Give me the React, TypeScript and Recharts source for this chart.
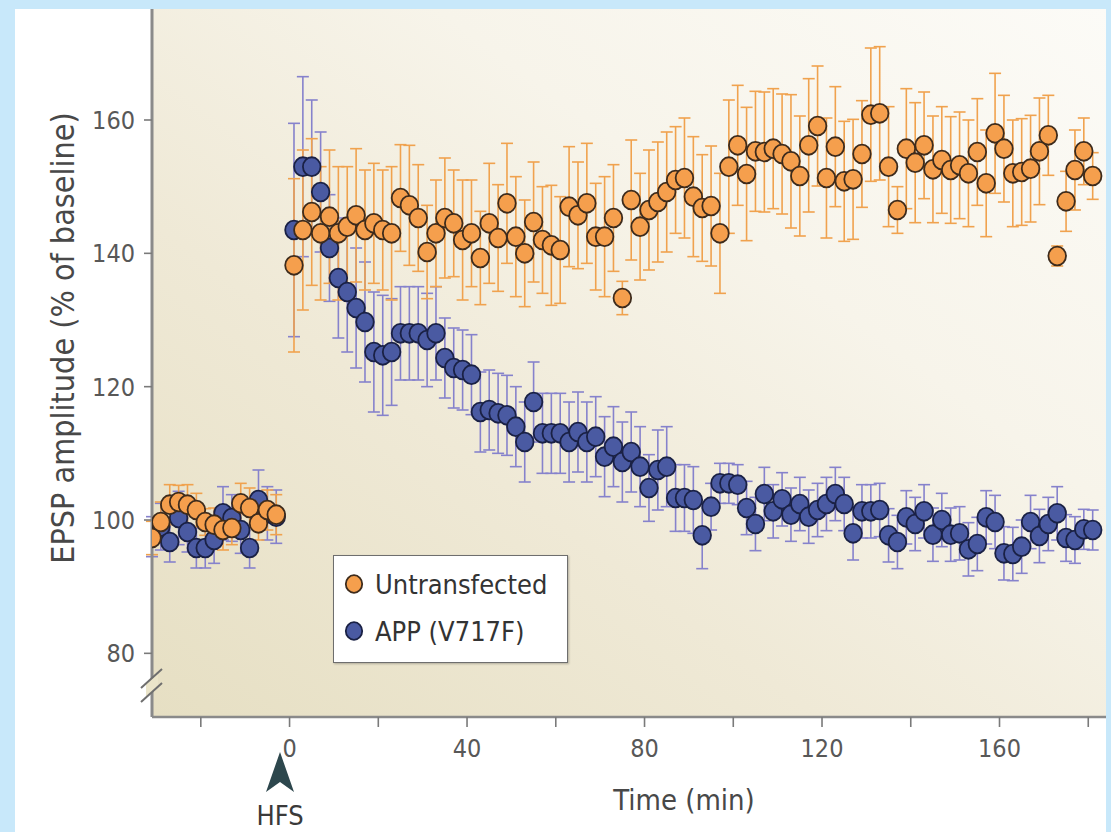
import React from 'react';
import { ScatterChart, Scatter, XAxis, YAxis, ErrorBar } from 'recharts';

const FONT = "'Liberation Sans Narrow', 'DejaVu Sans Condensed', 'Open Sans', sans-serif";

// time of each sweep (min), HFS at 0
const TIME = [
  -31, -29, -27, -25, -23, -21, -19, -17, -15, -13, -11, -9, -7, -5, -3,
  1, 3, 5, 7, 9, 11, 13, 15, 17, 19, 21, 23, 25, 27, 29, 31, 33, 35, 37, 39,
  41, 43, 45, 47, 49, 51, 53, 55, 57, 59, 61, 63, 65, 67, 69, 71, 73, 75, 77, 79,
  81, 83, 85, 87, 89, 91, 93, 95, 97, 99, 101, 103, 105, 107, 109, 111, 113, 115, 117, 119,
  121, 123, 125, 127, 129, 131, 133, 135, 137, 139, 141, 143, 145, 147, 149, 151, 153, 155, 157, 159,
  161, 163, 165, 167, 169, 171, 173, 175, 177, 179, 181,
];

const UNTRANSFECTED = [
  97.3, 99.7, 102.3, 102.7, 102.3, 101.5, 99.7, 99.3, 98.5, 98.8, 102.5, 101.8, 99.5, 101.5, 100.8,
  138.2, 143.5, 146.2, 143, 145.5, 143, 144, 145.7, 143.5, 144.5,
  143.5, 143, 148.3, 147.2, 145.3, 140.2, 143, 145.3, 144.5, 142,
  143, 139.3, 144.5, 142.3, 147.5, 142.5, 140, 144.7, 142, 141.2,
  140.5, 147, 145.7, 147.5, 142.5, 142.5, 145.3, 133.3, 148, 144,
  146.5, 147.7, 149.2, 151, 151.3, 148.5, 146.8, 147.1, 143, 153,
  156.2, 151.9, 155.3, 155.2, 155.7, 154.9, 153.8, 151.6, 156.2, 159.1,
  151.3, 156, 150.8, 151.1, 154.9, 160.8, 161, 153, 146.5, 155.7,
  153.6, 156.2, 152.6, 154, 152.5, 153.2, 152, 155.2, 150.5, 158,
  155.7, 152, 152.2, 152.7, 155.3, 157.7, 139.6, 147.8, 152.5, 155.3,
  151.6,
];

const UNTRANSFECTED_SEM = [
  2.5, 3, 3, 2.5, 3, 2.5, 2, 2.5, 3, 2.5, 3, 3, 2.5, 3, 3,
  13, 12, 11, 10, 10, 10, 9, 10, 9, 9,
  9, 10, 8, 9, 8, 7, 8, 9, 8, 9,
  8, 7, 9, 8, 9, 9, 8, 9, 8, 9,
  8, 9, 8, 9, 8, 9, 8, 2.5, 9, 8,
  9, 9, 9, 8, 9, 9, 8, 9, 9, 10,
  9, 10, 9, 9, 9, 9, 10, 9, 10, 9,
  9, 9, 9, 9, 8, 10, 10, 9, 3.5, 9,
  9, 8, 8, 8, 8, 8, 8, 8, 8, 9,
  8, 8, 8, 8, 8, 6, 1.5, 4.5, 6, 5,
  3.5,
];

const APP = [
  97.5, 99, 96.7, 100.3, 98.2, 95.8, 95.8, 97, 101, 100.3, 98.5, 95.8, 103, 101, 100.5,
  143.5, 153, 153, 149.2, 140.8, 136.3, 134.2, 131.8, 129.7, 125.2,
  124.7, 125.2, 128, 128, 128, 127, 128, 124.3, 122.8, 122.5,
  121.8, 116.2, 116.5, 116, 115.7, 114, 111.7, 117.7, 113, 113,
  113, 111.7, 113.2, 111.7, 112.5, 109.5, 111, 108.7, 110.2, 108,
  104.8, 107.5, 108, 103.3, 103.3, 103, 97.7, 102, 105.5, 105.5,
  105.3, 101.8, 99.4, 103.9, 101.3, 103.1, 100.8, 102.4, 100.5, 101.5,
  102.4, 103.9, 102.4, 98, 101.3, 101.3, 101.5, 97.7, 96.7, 100.4,
  99.4, 101.3, 97.8, 100, 97.8, 98, 95.6, 96.4, 100.4, 99.7,
  95, 94.9, 96, 99.7, 97.6, 99.4, 101, 97.3, 97, 98.6,
  98.5,
];

const APP_SEM = [
  3, 3.5, 3, 4, 3, 3, 3, 3.5, 4, 3.5, 3.5, 3, 4.5, 4, 4,
  16, 13.5, 10, 9, 8, 9, 9, 9, 9, 9,
  9, 8, 7, 7, 7, 7, 7, 6, 6, 6,
  6, 6, 6, 6, 6, 6, 6, 6, 6, 6,
  6, 6, 6, 6, 6, 6, 6, 6, 6, 6,
  5, 6, 6, 5, 5, 5, 5, 3.5, 3, 3,
  3, 4, 4, 4, 4, 4, 4, 4, 4, 4,
  4, 4, 4, 4, 4, 4, 4, 4, 4, 4,
  4, 4, 4, 4, 4, 4, 4, 4, 4, 4,
  4, 4, 4, 4, 4, 4, 4, 3.5, 3.5, 3,
  3,
];

const X_TICKS = [-20, 0, 20, 40, 60, 80, 100, 120, 140, 160, 180];
const X_LABELS = [0, 40, 80, 120, 160];
const Y_TICKS = [80, 100, 120, 140, 160];

const untransfected = TIME.map((t, i) => ({ t, v: UNTRANSFECTED[i], e: UNTRANSFECTED_SEM[i] }));
const app = TIME.map((t, i) => ({ t, v: APP[i], e: APP_SEM[i] }));

const ORANGE = '#f59f4d';
const ORANGE_EDGE = '#3d2b1c';
const ORANGE_BAR = '#f0a24e';
const BLUE = '#4a5aa2';
const BLUE_EDGE = '#1a2145';
const BLUE_BAR = '#8682cc';

const hidden = () => <g />;
const dot = (fill: string, edge: string) => (p: any) => (
  <ellipse cx={p.cx} cy={p.cy} rx={8.8} ry={9.4} fill={fill} stroke={edge} strokeWidth={1.8} />
);

export default function App() {
  return (
    <div style={{ position: 'absolute', left: 0, top: 0, width: 1111, height: 832, background: '#c8e8fa', overflow: 'hidden', fontFamily: FONT }}>
      <div style={{ position: 'absolute', left: 15, top: 9, width: 1091, height: 823, background: '#fff' }} />
      {/* plot background */}
      <div
        style={{
          position: 'absolute', left: 152, top: 9, width: 954, height: 708,
          background: 'linear-gradient(to top right, #e6dfc3 0%, #efe9d6 35%, #f7f4ea 65%, #fcfbf7 100%)',
        }}
      />
      <div style={{ position: 'absolute', left: 0, top: 0 }}>
        <ScatterChart width={1111} height={832} margin={{ top: 9, right: 5, bottom: 0, left: 0 }}>
          <XAxis
            dataKey="t" type="number" domain={[-31, 184]} ticks={X_TICKS} interval={0}
            allowDataOverflow height={115} tickSize={10} tickMargin={12}
            axisLine={{ stroke: '#8a8a8a', strokeWidth: 2.5 }}
            tickLine={{ stroke: '#7a7a7a', strokeWidth: 1.6 }}
            tick={{ fill: '#585858', fontSize: 25, fontFamily: FONT }}
            tickFormatter={(v: number) => (X_LABELS.includes(v) ? String(v) : '')}
          />
          <YAxis
            dataKey="v" type="number" domain={[70.45, 176.65]} ticks={Y_TICKS} interval={0}
            allowDataOverflow width={152} tickSize={8} tickMargin={9}
            axisLine={{ stroke: '#8a8a8a', strokeWidth: 3 }}
            tickLine={{ stroke: '#7a7a7a', strokeWidth: 1.6 }}
            tick={{ fill: '#585858', fontSize: 25, fontFamily: FONT }}
          />
          <Scatter data={app} dataKey="v" shape={hidden} isAnimationActive={false}>
            <ErrorBar dataKey="e" direction="y" width={6} stroke={BLUE_BAR} strokeWidth={1.6} isAnimationActive={false} />
          </Scatter>
          <Scatter data={untransfected} dataKey="v" shape={hidden} isAnimationActive={false}>
            <ErrorBar dataKey="e" direction="y" width={6} stroke={ORANGE_BAR} strokeWidth={1.6} isAnimationActive={false} />
          </Scatter>
          <Scatter name="APP (V717F)" data={app} dataKey="v" shape={dot(BLUE, BLUE_EDGE)} isAnimationActive={false} />
          <Scatter name="Untransfected" data={untransfected} dataKey="v" shape={dot(ORANGE, ORANGE_EDGE)} isAnimationActive={false} />
        </ScatterChart>
      </div>

      {/* axis break on the y axis, HFS arrow */}
      <svg style={{ position: 'absolute', left: 0, top: 0 }} width={1111} height={832}>
        <polygon points="146,684 158,673 158,687 146,698" fill="#ebe5ca" />
        <line x1={141} y1={688} x2={162} y2={669} stroke="#6f6f6f" strokeWidth={2} />
        <line x1={141} y1={702} x2={162} y2={683} stroke="#6f6f6f" strokeWidth={2} />
        <polygon points="280,752 294,792 280,782 266,792" fill="#2d474d" />
      </svg>

      <div style={{ position: 'absolute', left: 280, top: 815, transform: 'translate(-50%,-50%)', fontSize: 27, color: '#3a3a3a', whiteSpace: 'nowrap' }}>HFS</div>

      <div style={{ position: 'absolute', left: 63, top: 338, transform: 'translate(-50%,-50%) rotate(-90deg)', fontSize: 32, color: '#484848', whiteSpace: 'nowrap' }}>
        EPSP amplitude (% of baseline)
      </div>
      <div style={{ position: 'absolute', left: 684, top: 800, transform: 'translate(-50%,-50%)', fontSize: 29, color: '#484848', whiteSpace: 'nowrap' }}>
        Time (min)
      </div>

      {/* legend */}
      <div style={{ position: 'absolute', left: 333, top: 555, width: 235, height: 108, boxSizing: 'border-box', background: '#fff', border: '1.5px solid #6e6e6e', boxShadow: '1px 1px 2px rgba(0,0,0,0.25)' }}>
        {[
          { label: 'Untransfected', fill: ORANGE, edge: ORANGE_EDGE },
          { label: 'APP (V717F)', fill: BLUE, edge: BLUE_EDGE },
        ].map((d, i) => (
          <div key={d.label} style={{ position: 'absolute', left: 10, top: 11 + i * 47, height: 34, display: 'flex', alignItems: 'center', gap: 11, fontSize: 27, color: '#333', whiteSpace: 'nowrap' }}>
            <svg width={20} height={20}>
              <ellipse cx={10} cy={10} rx={8.2} ry={8.8} fill={d.fill} stroke={d.edge} strokeWidth={1.8} />
            </svg>
            <span>{d.label}</span>
          </div>
        ))}
      </div>
    </div>
  );
}
